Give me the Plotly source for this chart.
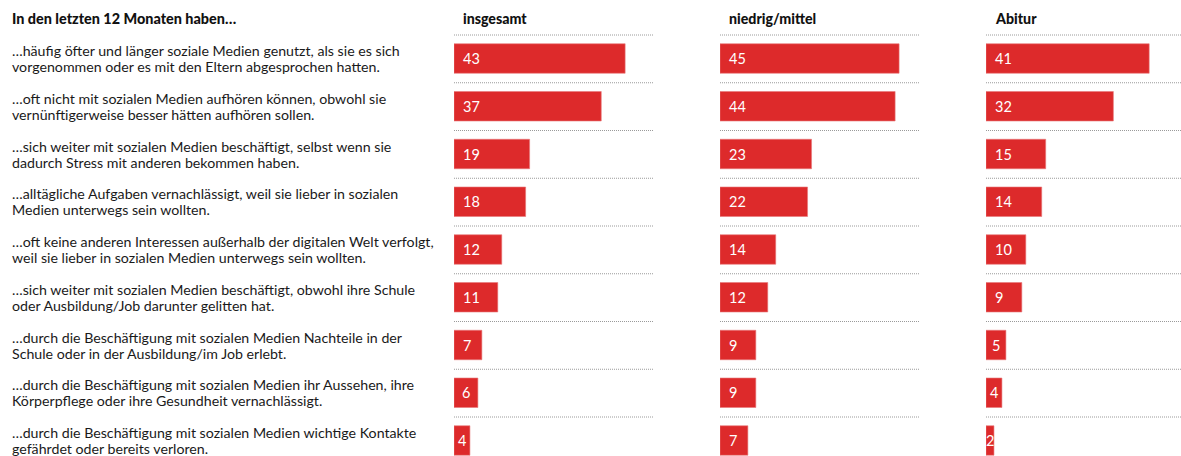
import plotly.graph_objects as go

header = "In den letzten 12 Monaten haben…"
panel_titles = ["insgesamt", "niedrig/mittel", "Abitur"]
statements = [
    "…häufig öfter und länger soziale Medien genutzt, als sie es sich<br>vorgenommen oder es mit den Eltern abgesprochen hatten.",
    "…oft nicht mit sozialen Medien aufhören können, obwohl sie<br>vernünftigerweise besser hätten aufhören sollen.",
    "…sich weiter mit sozialen Medien beschäftigt, selbst wenn sie<br>dadurch Stress mit anderen bekommen haben.",
    "…alltägliche Aufgaben vernachlässigt, weil sie lieber in sozialen<br>Medien unterwegs sein wollten.",
    "…oft keine anderen Interessen außerhalb der digitalen Welt verfolgt,<br>weil sie lieber in sozialen Medien unterwegs sein wollten.",
    "…sich weiter mit sozialen Medien beschäftigt, obwohl ihre Schule<br>oder Ausbildung/Job darunter gelitten hat.",
    "…durch die Beschäftigung mit sozialen Medien Nachteile in der<br>Schule oder in der Ausbildung/im Job erlebt.",
    "…durch die Beschäftigung mit sozialen Medien ihr Aussehen, ihre<br>Körperpflege oder ihre Gesundheit vernachlässigt.",
    "…durch die Beschäftigung mit sozialen Medien wichtige Kontakte<br>gefährdet oder bereits verloren.",
]
insgesamt = [43, 37, 19, 18, 12, 11, 7, 6, 4]
niedrig_mittel = [45, 44, 23, 22, 14, 12, 9, 9, 7]
abitur = [41, 32, 15, 14, 10, 9, 5, 4, 2]
series = [insgesamt, niedrig_mittel, abitur]

W, H = 1181, 456
RED = "#dd2a2b"
FONT = "Lato"
px_domains = [(454, 653), (720, 919), (986, 1181)]
PX_PER_UNIT = 199 / 50
ROW0, PITCH = 58.5, 47.75
LINE_GAP = 16

fig = go.Figure()
layout = dict(
    width=W, height=H, margin=dict(l=0, r=0, t=0, b=0, pad=0),
    paper_bgcolor="white", plot_bgcolor="white", showlegend=False,
    bargap=1 - 29.5 / PITCH,
    yaxis=dict(domain=[0, 1], range=[(H - ROW0) / PITCH, -ROW0 / PITCH],
               visible=False, type="category", categoryorder="array",
               categoryarray=statements, fixedrange=True),
)
shapes, annotations = [], []
for k, (vals, (a, b), title) in enumerate(zip(series, px_domains, panel_titles)):
    xid = "x" if k == 0 else f"x{k+1}"
    axname = "xaxis" if k == 0 else f"xaxis{k+1}"
    layout[axname] = dict(domain=[a / W, b / W], range=[0, (b - a) / PX_PER_UNIT],
                          visible=False, anchor="y", fixedrange=True)
    fig.add_trace(go.Bar(x=vals, y=statements, orientation="h", xaxis=xid, yaxis="y",
                         marker=dict(color=RED, line=dict(color="#e8787a", width=0.6)),
                         hoverinfo="skip"))
    for i in range(len(statements)):
        shapes.append(dict(type="line", xref=f"{xid} domain", yref="y",
                           x0=0, x1=1, y0=i - 0.492, y1=i - 0.492,
                           line=dict(color="#9a9a9a", width=1, dash="1px,1px")))
    for i, v in enumerate(vals):
        small = v * PX_PER_UNIT < 24
        annotations.append(dict(
            xref=xid, yref="y", x=(v / 2 if small else 0), y=statements[i],
            xanchor="center" if small else "left", xshift=0 if small else 7,
            text=str(v), showarrow=False,
            font=dict(family=FONT, size=14.5, color="white", weight=400)))
    annotations.append(dict(xref=f"{xid} domain", yref="paper", x=0, xshift=7,
                            y=1 - 18 / H, xanchor="left", yanchor="middle",
                            text=title, showarrow=False,
                            font=dict(family=FONT, size=14.2, color="#111", weight=900)))

annotations.append(dict(xref="paper", yref="paper", x=10 / W, y=1 - 18 / H,
                        xanchor="left", yanchor="middle", text=header,
                        showarrow=False, font=dict(family=FONT, size=14.4, color="#111", weight=900)))
for s in statements:
    lines = s.split("<br>")
    n = len(lines)
    for j, ln in enumerate(lines):
        annotations.append(dict(xref="paper", yref="y", x=10 / W, y=s, xanchor="left",
                                yanchor="middle", align="left", text=ln, showarrow=False,
                                yshift=-(j - (n - 1) / 2) * LINE_GAP,
                                font=dict(family=FONT, size=14.2, color="#1a1a1a")))

layout["shapes"] = shapes
layout["annotations"] = annotations
fig.update_layout(**layout)
fig.write_html("out.html", config={"displayModeBar": False},
               post_script="document.body.style.margin='0';")
